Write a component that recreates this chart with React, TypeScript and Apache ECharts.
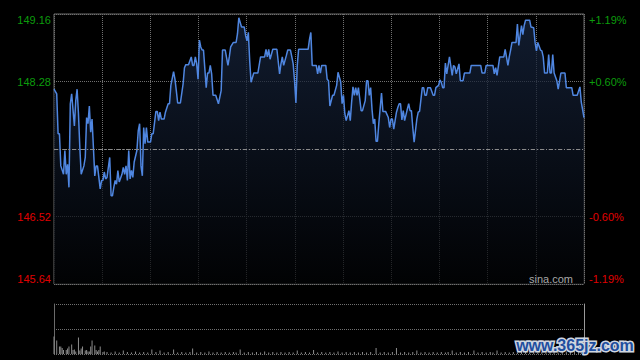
import { useEffect, useRef } from "react";
import * as echarts from "echarts";

const PREV_CLOSE = 147.4;
const PRICE_STEP = 0.88;
const SESSION_MINUTES = 390;
const X_DIVISIONS = 11;

const minutes = [
  0, 2, 3, 4, 5, 7, 8, 9, 10, 11, 12, 13, 15, 16, 17, 18, 19, 20, 22, 23, 24, 25, 26, 27, 28, 29, 30, 31, 32, 34, 35, 36, 37, 38, 39, 41, 42, 43, 44, 45, 46, 47, 48, 50, 51, 52, 53, 54, 55, 56, 57, 58, 59, 61, 62, 63, 64, 65, 66, 67, 68, 69, 71, 72, 73, 75, 76, 77, 78, 79, 81, 82, 84, 85, 86, 88, 89, 90, 91, 93, 95, 96, 97, 99, 101, 102, 103, 104, 105, 106, 107, 108, 109, 110, 112, 113, 114, 115, 116, 117, 119, 121, 123, 124, 126, 128, 129, 130, 132, 134, 135, 136, 138, 140, 141, 142, 143, 144, 145, 147, 150, 152, 155, 156, 157, 158, 159, 161, 164, 166, 167, 168, 169, 171, 172, 174, 175, 176, 177, 178, 179, 180, 187, 188, 189, 190, 193, 194, 195, 196, 197, 200, 201, 202, 203, 205, 206, 208, 209, 211, 212, 213, 214, 215, 217, 218, 219, 220, 221, 222, 223, 224, 226, 227, 229, 230, 231, 232, 233, 234, 235, 236, 237, 238, 239, 241, 242, 244, 246, 247, 248, 249, 250, 252, 253, 254, 255, 256, 257, 258, 260, 261, 262, 263, 264, 265, 267, 268, 269, 271, 272, 273, 274, 275, 277, 279, 280, 281, 283, 284, 285, 286, 287, 288, 289, 290, 291, 293, 294, 295, 296, 298, 299, 301, 302, 306, 307, 314, 315, 317, 318, 323, 324, 325, 326, 328, 331, 332, 334, 335, 336, 337, 340, 341, 342, 344, 345, 346, 347, 350, 351, 353, 354, 355, 356, 358, 359, 360, 361, 363, 364, 365, 366, 367, 368, 370, 371, 373, 376, 377, 381, 382, 385, 387, 388, 390,
];

const prices = [
  148.18, 148.12, 147.6, 147.6, 147.18, 147.07, 147.38, 147.07, 147.2, 146.9, 147.99, 148.12, 147.7, 148.03, 148.18, 147.86, 147.42, 147.07, 147.18, 147.29, 147.81, 147.73, 147.96, 147.62, 147.79, 147.42, 147.05, 147.18, 147.18, 146.88, 146.99, 146.99, 147.1, 147.01, 147.03, 147.29, 146.79, 146.79, 146.9, 146.99, 146.94, 147.12, 146.97, 147.07, 147.16, 147.07, 147.18, 146.99, 147.38, 147.01, 147.12, 147.03, 147.23, 147.38, 147.64, 147.73, 147.18, 147.05, 147.68, 147.47, 147.68, 147.49, 147.49, 147.6, 147.6, 147.89, 147.89, 147.77, 147.88, 147.79, 147.79, 147.88, 147.99, 147.99, 148.23, 148.41, 148.31, 148.16, 148.0, 148.0, 148.25, 148.46, 148.5, 148.5, 148.6, 148.49, 148.49, 148.6, 148.51, 148.31, 148.82, 148.73, 148.69, 148.69, 148.2, 148.39, 148.39, 148.49, 148.38, 148.1, 148.1, 147.99, 148.16, 148.69, 148.69, 148.49, 148.6, 148.73, 148.79, 148.79, 148.9, 149.11, 148.99, 148.99, 148.88, 148.81, 148.92, 148.55, 148.27, 148.39, 148.39, 148.6, 148.6, 148.7, 148.6, 148.7, 148.57, 148.7, 148.7, 148.38, 148.51, 148.6, 148.49, 148.62, 148.69, 148.69, 148.6, 148.51, 148.29, 148.0, 148.49, 148.7, 148.7, 148.83, 148.92, 148.49, 148.49, 148.38, 148.49, 148.39, 148.49, 148.49, 148.31, 148.29, 147.96, 148.1, 148.1, 148.23, 148.4, 148.27, 147.99, 148.1, 147.86, 147.77, 147.9, 147.77, 148.01, 148.21, 148.1, 148.2, 148.1, 148.2, 147.9, 147.9, 148.03, 148.29, 148.29, 148.1, 148.2, 147.92, 147.73, 147.79, 147.5, 147.5, 147.73, 148.13, 147.89, 147.89, 147.81, 147.68, 147.79, 147.79, 147.66, 147.88, 147.94, 147.99, 147.99, 147.78, 147.9, 147.77, 147.92, 147.99, 147.9, 147.9, 147.68, 147.49, 147.79, 147.88, 147.89, 148.2, 148.2, 148.1, 148.1, 148.2, 148.2, 148.1, 148.1, 148.2, 148.23, 148.3, 148.27, 148.2, 148.2, 148.52, 148.38, 148.49, 148.6, 148.36, 148.49, 148.47, 148.38, 148.51, 148.29, 148.29, 148.39, 148.39, 148.49, 148.49, 148.39, 148.39, 148.49, 148.49, 148.38, 148.46, 148.36, 148.6, 148.6, 148.7, 148.49, 148.6, 148.69, 148.79, 148.79, 149.03, 148.75, 149.01, 148.89, 149.01, 149.08, 149.08, 148.99, 148.98, 148.79, 148.68, 148.79, 148.69, 148.68, 148.6, 148.39, 148.39, 148.63, 148.39, 148.39, 148.63, 148.39, 148.29, 148.18, 148.39, 148.39, 148.2, 148.2, 148.1, 148.1, 148.21, 148.01, 147.81,
];

const volMinutes = [
  0, 2, 4, 5, 6, 7, 9, 10, 11, 13, 14, 15, 16, 18, 19, 20, 21, 23, 24, 25, 26, 27, 28, 30, 31, 32, 33, 34, 36, 37,
  39, 42, 45, 48, 51, 54, 57, 60, 63, 66, 69, 72, 75, 78, 81, 84, 88, 91, 94, 97, 100, 102, 105, 108, 111, 114, 117, 120, 123, 126, 129, 132, 134, 137, 140, 143, 146, 149, 152, 155, 158, 161, 164, 167, 170, 173, 176, 179, 182, 185, 188, 191, 194, 197, 200, 203, 206, 209, 212, 215, 218, 221, 224, 227, 230, 233, 237, 240, 243, 246, 249, 252, 255, 258, 261, 264, 267, 270, 273, 276, 279, 282, 285, 288, 290, 293, 296, 299, 302, 305, 309, 312, 315, 318, 321, 323, 326, 329, 332, 335, 338, 341, 344, 347, 350, 353, 356, 359, 362, 365, 368, 371, 374, 377, 380, 383, 386, 388, 390,
];

const volumes = [
  35, 27, 15, 15, 12, 8, 8, 11, 15, 19, 8, 9, 5, 33, 7, 11, 15, 7, 8, 5, 5, 15, 27, 17, 8, 5, 8, 15, 4, 5,
  4, 3, 5, 3, 7, 4, 3, 5, 3, 4, 3, 9, 4, 7, 3, 4, 9, 3, 4, 3, 4, 11, 3, 4, 3, 5, 3, 4, 3, 4, 3, 4, 3, 9, 3, 4, 3, 4, 3, 5, 3, 4, 3, 4, 3, 4, 3, 7, 3, 4, 3, 8, 3, 4, 3, 4, 3, 5, 3, 4, 3, 4, 3, 4, 3, 4, 12, 3, 4, 3, 4, 12, 3, 4, 3, 4, 7, 3, 4, 3, 4, 3, 4, 3, 4, 7, 3, 4, 3, 4, 7, 3, 4, 3, 4, 3, 7, 3, 4, 3, 4, 3, 4, 5, 3, 4, 3, 4, 3, 5, 4, 3, 4, 5, 4, 6, 5, 8, 10,
];

const FONT = "Arial, 'Liberation Sans', sans-serif";
const UP = "#0c9c0c";
const DOWN = "#e00000";

export default function App() {
  const ref = useRef<HTMLDivElement>(null);

  useEffect(() => {
    const chart = echarts.init(ref.current!, null, { renderer: "svg" });
    const lineData = minutes.map((m, i) => [m, +(prices[i] - PREV_CLOSE).toFixed(4)]);
    const volData = volMinutes.map((m, i) => [m, volumes[i]]);
    const xInterval = SESSION_MINUTES / X_DIVISIONS;
    const yMax = 2 * PRICE_STEP;
    const labelColor = (v: any) => (Number(v) > 0 ? UP : DOWN);

    chart.setOption({
      animation: false,
      backgroundColor: "#000",
      grid: [
        { left: 54, top: 14, width: 530, height: 270, show: true, borderColor: "#6a6a6a", borderWidth: 1, backgroundColor: "transparent" },
        { left: 54, top: 304, width: 530, height: 50, show: false },
      ],
      xAxis: [
        {
          type: "value", gridIndex: 0, min: 0, max: SESSION_MINUTES, interval: xInterval,
          axisLine: { show: false }, axisTick: { show: false }, axisLabel: { show: false },
          splitLine: { show: true, lineStyle: { type: "dotted", color: "#707070", width: 1 } },
        },
        {
          type: "value", gridIndex: 1, min: 0, max: SESSION_MINUTES,
          axisLine: { show: false }, axisTick: { show: false }, axisLabel: { show: false }, splitLine: { show: false },
        },
      ],
      yAxis: [
        {
          type: "value", gridIndex: 0, position: "left", min: -yMax, max: yMax, interval: PRICE_STEP,
          axisLine: { show: false }, axisTick: { show: false },
          splitLine: { show: true, lineStyle: { type: "dotted", color: "#707070", width: 1 } },
          axisLabel: {
            margin: 3, fontSize: 11, fontFamily: FONT, color: labelColor,
            verticalAlignMaxLabel: "top", verticalAlignMinLabel: "bottom",
            formatter: (v: number) => (Math.abs(v) < 1e-9 ? "" : (PREV_CLOSE + v).toFixed(2)),
          },
        },
        {
          type: "value", gridIndex: 0, position: "right", min: -yMax, max: yMax, interval: PRICE_STEP,
          axisLine: { show: false }, axisTick: { show: false }, splitLine: { show: false },
          axisLabel: {
            margin: 5, fontSize: 11, fontFamily: FONT, color: labelColor,
            verticalAlignMaxLabel: "top", verticalAlignMinLabel: "bottom",
            formatter: (v: number) => {
              if (Math.abs(v) < 1e-9) return "";
              const pct = (v / PREV_CLOSE) * 100;
              return (pct > 0 ? "+" : "") + pct.toFixed(2) + "%";
            },
          },
        },
        {
          type: "value", gridIndex: 1, position: "left", min: 0, max: 100, interval: 50,
          axisLine: { show: true, lineStyle: { color: "#6a6a6a" } }, axisTick: { show: false }, axisLabel: { show: false },
          splitLine: { show: true, lineStyle: { type: "dotted", color: "#707070", width: 1 } },
        },
        {
          type: "value", gridIndex: 1, position: "right", min: 0, max: 100, interval: 50,
          axisLine: { show: true, lineStyle: { color: "#9a9a9a" } }, axisTick: { show: false }, axisLabel: { show: false },
          splitLine: { show: false },
        },
      ],
      series: [
        {
          type: "line", xAxisIndex: 0, yAxisIndex: 0, data: lineData, showSymbol: false, symbol: "none",
          lineStyle: { color: "#4f86e0", width: 1.5 },
          areaStyle: {
            origin: "start",
            color: new echarts.graphic.LinearGradient(0, 0, 0, 1, [
              { offset: 0, color: "#182742" },
              { offset: 1, color: "#020305" },
            ]),
          },
          markLine: {
            silent: true, symbol: "none", label: { show: false },
            lineStyle: { color: "#8a8a8a", type: [4, 2, 1, 2], width: 1 },
            data: [{ yAxis: 0 }],
          },
          z: 3,
        },
        {
          type: "bar", xAxisIndex: 1, yAxisIndex: 2, data: volData, barWidth: 1,
          itemStyle: { color: "#8c8c8c" },
        },
      ],
      graphic: [
        {
          type: "text", x: 573, y: 279, z: 10,
          style: { text: "sina.com", fill: "#a8a8a8", font: `11px ${FONT}`, textAlign: "right", textVerticalAlign: "middle" },
        },
        {
          type: "text", x: 575, y: 345, z: 20,
          style: {
            text: "www.365jz.com", fill: "#1f4e9e", stroke: "#cfd6e0", lineWidth: 3,
            font: `bold 16px ${FONT}`, textAlign: "center", textVerticalAlign: "middle",
          },
        },
      ],
    });

    return () => chart.dispose();
  }, []);

  return (
    <div
      ref={ref}
      style={{ position: "fixed", left: 0, top: 0, width: 640, height: 360, background: "#000" }}
    />
  );
}
